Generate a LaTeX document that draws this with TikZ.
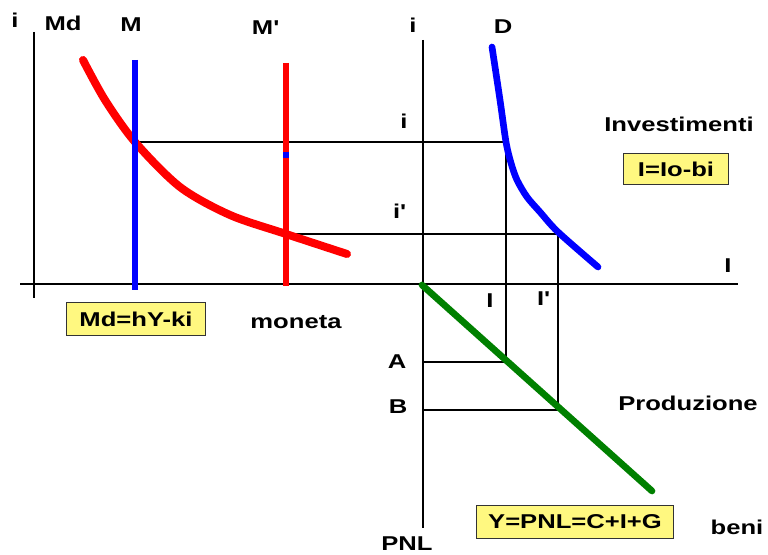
\documentclass[tikz,border=0pt]{standalone}
\usepackage{fontspec}
\setmainfont{Liberation Sans}[FakeStretch=1.28]
\usetikzlibrary{positioning}

\begin{document}
\begin{tikzpicture}[
  x=0.75pt, y=-0.75pt,
  every node/.style={font=\fontsize{15}{17}\selectfont\bfseries, inner sep=1pt},
  axis/.style={line width=1.1pt},
  guide/.style={line width=0.9pt},
  curve/.style={line width=#1, line cap=round, line join=round},
  formula/.style={draw=black!80, fill=yellow!50, line width=0.9pt, minimum height=25pt, inner xsep=3pt}
]
\useasboundingbox (0,0) rectangle (768,555);

% Key points
\coordinate (o1) at (34,284);
\coordinate (o2) at (423,284);
\coordinate (e1) at (135,142);
\coordinate (e2) at (286,234);
\coordinate (di) at (506,142);
\coordinate (dj) at (558,234);
\coordinate (pa) at (506,362);
\coordinate (pb) at (558,410);

% Axes
\draw[axis] (34,32) -- (34,298);
\draw[axis] (423,40) -- (423,528);
\draw[axis] (20,284) -- (738,284);

% Guide lines
\draw[guide] (e1) -- (di);
\draw[guide] (e2) -- (dj);
\draw[guide] (di) -- (pa);
\draw[guide] (dj) -- (pb);
\draw[guide] (pa) -- (pa -| o2);
\draw[guide] (pb) -- (pb -| o2);

% Money market
\draw[curve=6pt, red] plot[smooth] coordinates {(83,60) (105,100) (135,142) (180,187) (230,215) (286,234) (347,254)};
\draw[curve=3.8pt, blue, line cap=butt] (135,60) -- (135,290);
\draw[curve=4.5pt, red, line cap=butt] (286,63) -- (286,286);
\draw[line width=4.5pt, blue] (286,152) -- (286,158);

% Investment demand
\draw[curve=5pt, blue] plot[smooth] coordinates {(492,47) (500,100) (506,142) (511,163) (517,180) (527,197) (540,212) (558,232) (598,267)};

% Production
\draw[curve=5pt, green!50!black] (422,285) -- (652,491);

% Labels
\node (li1) at (15,20) {i};
\node (lmd) at (63,23) {Md};
\node (lm) at (131,25) {M};
\node (lm2) at (265,28) {M\textquotesingle};
\node (li2) at (413,25) {i};
\node (ld) at (503,27) {D};
\node (li3) at (404,121) {i};
\node (li4) at (399,211) {i\textquotesingle};
\node (lI) at (728,266) {I};
\node (lI1) at (490,301) {I};
\node (lI2) at (543,299) {I\textquotesingle};
\node (la) at (397,362) {A};
\node (lb) at (398,407) {B};
\node (lpnl) at (407,544) {PNL};
\node (lbeni) at (737,527) {beni};
\node (lmon) at (296,322) {moneta};
\node (lprod) at (688,403) {Produzione};
\node (linv) at (679,124) {Investimenti};

% Formulas
\node[formula, minimum width=79pt, minimum height=23pt] (finv) at (676,169) {I=Io-bi};
\node[formula, minimum width=104pt] (fmd) at (136,319) {Md=hY-ki};
\node[formula, minimum width=148pt] (fy) at (575,522) {Y=PNL=C+I+G};
\end{tikzpicture}
\end{document}
